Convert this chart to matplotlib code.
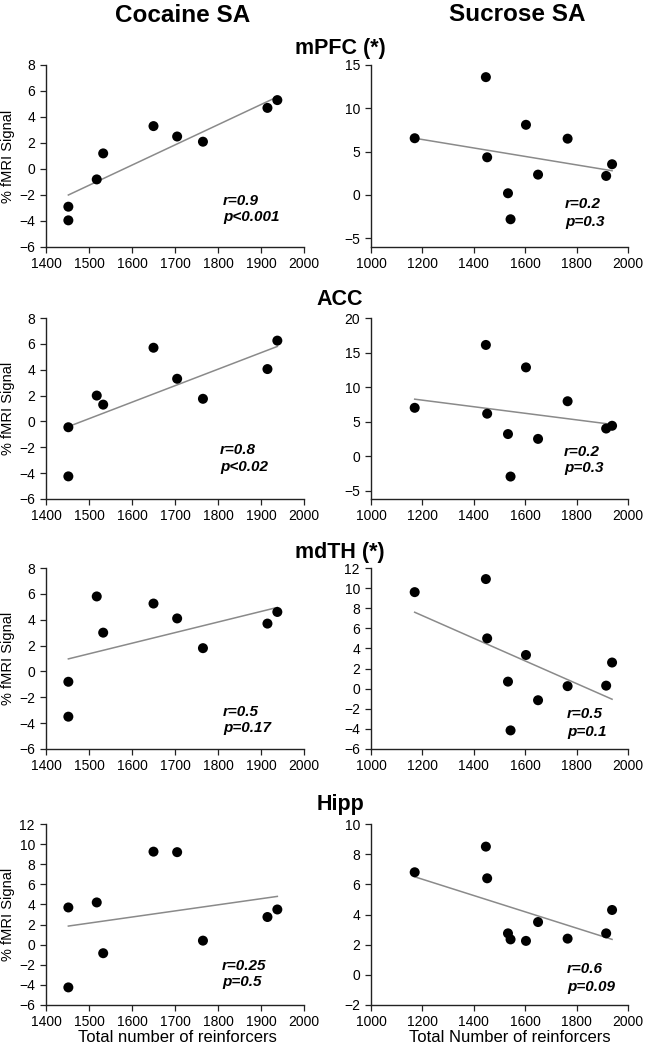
import matplotlib
matplotlib.use("Agg")
import matplotlib.pyplot as plt
import numpy as np

plt.rcParams["font.family"] = ["Liberation Sans", "DejaVu Sans"]

# reinforcers per subject
coc_x = [1452, 1452, 1518, 1533, 1650, 1705, 1765, 1915, 1938]
suc_x = [1170, 1447, 1452, 1533, 1543, 1603, 1650, 1765, 1915, 1938]

# % fMRI signal, cocaine group
coc_mpfc = [-2.9, -3.95, -0.8, 1.2, 3.3, 2.5, 2.1, 4.7, 5.3]
coc_acc = [-0.45, -4.25, 2.0, 1.3, 5.7, 3.3, 1.75, 4.05, 6.25]
coc_mdth = [-0.8, -3.5, 5.8, 3.0, 5.25, 4.1, 1.8, 3.7, 4.6]
coc_hipp = [3.7, -4.25, 4.2, -0.85, 9.25, 9.2, 0.4, 2.75, 3.5]

# % fMRI signal, sucrose group
suc_mpfc = [6.55, 13.6, 4.35, 0.2, -2.8, 8.1, 2.35, 6.5, 2.2, 3.55]
suc_acc = [7.0, 16.1, 6.15, 3.2, -2.95, 12.85, 2.5, 7.95, 4.0, 4.4]
suc_mdth = [9.6, 10.9, 5.0, 0.7, -4.15, 3.35, -1.15, 0.25, 0.3, 2.6]
suc_hipp = [6.8, 8.5, 6.4, 2.75, 2.35, 2.25, 3.5, 2.4, 2.75, 4.3]

# regression line end points
coc_fit_x = [1452, 1938]
suc_fit_x = [1170, 1938]
coc_fit = [[-2.0, 5.55], [-0.4, 5.8], [0.97, 4.95], [1.85, 4.8]]
suc_fit = [[6.55, 2.8], [8.25, 4.6], [7.6, -1.05], [6.5, 2.35]]

coc_stats = [("r=0.9", "p<0.001"), ("r=0.8", "p<0.02"), ("r=0.5", "p=0.17"), ("r=0.25", "p=0.5")]
suc_stats = [("r=0.2", "p=0.3"), ("r=0.2", "p=0.3"), ("r=0.5", "p=0.1"), ("r=0.6", "p=0.09")]

regions = ["mPFC (*)", "ACC", "mdTH (*)", "Hipp"]

coc_ylim = [(-6, 8), (-6, 8), (-6, 8), (-6, 12)]
coc_yticks = [np.arange(-6, 9, 2)] * 3 + [np.arange(-6, 13, 2)]
suc_ylim = [(-6, 15), (-6.2, 20), (-6, 12), (-2, 10)]
suc_yticks = [np.arange(-5, 16, 5), np.arange(-5, 21, 5), np.arange(-6, 13, 2), np.arange(-2, 11, 2)]

W, H = 645, 1050
fig = plt.figure(figsize=(W / 100, H / 100), dpi=100)

rows = [(65, 247), (318, 499), (568, 749), (824, 1005)]
title_base = [54, 305, 558, 810]
coc_txt = [(0.686, 0.253, 0.165), (0.674, 0.271, 0.177), (0.686, 0.204, 0.116), (0.682, 0.215, 0.127)]
suc_txt = [(0.755, 0.239, 0.139), (0.751, 0.26, 0.171), (0.763, 0.193, 0.094), (0.763, 0.201, 0.101)]


def style(ax):
    for s in ["top", "right"]:
        ax.spines[s].set_visible(False)
    for s in ["left", "bottom"]:
        ax.spines[s].set_linewidth(1.0)
        ax.spines[s].set_color("#222222")
    ax.tick_params(direction="out", length=4, width=0.9, labelsize=10, color="#222222")
    ax.tick_params(axis="y", pad=4)
    ax.tick_params(axis="x", pad=3)


def panel(ax, x, y, fx, fy, st, pos, xlim, xt, ylim, yt):
    ax.plot(fx, fy, color="#8a8a8a", lw=1.1, zorder=1)
    ax.scatter(x, y, s=52, color="black", zorder=2, edgecolors="none")
    ax.set_xlim(*xlim)
    ax.set_xticks(xt)
    ax.set_ylim(*ylim)
    ax.set_yticks(yt)
    style(ax)
    ax.text(pos[0], pos[1], st[0], transform=ax.transAxes, ha="left", va="center",
            fontsize=11, fontweight="bold", fontstyle="italic")
    ax.text(pos[0], pos[2], st[1], transform=ax.transAxes, ha="left", va="center",
            fontsize=11, fontweight="bold", fontstyle="italic")


coc_y = [coc_mpfc, coc_acc, coc_mdth, coc_hipp]
suc_y = [suc_mpfc, suc_acc, suc_mdth, suc_hipp]

for i, (top, bot) in enumerate(rows):
    ax1 = fig.add_axes([46 / W, 1 - bot / H, 258 / W, (bot - top) / H])
    panel(ax1, coc_x, coc_y[i], coc_fit_x, coc_fit[i], coc_stats[i], coc_txt[i],
          (1400, 2000), np.arange(1400, 2001, 100), coc_ylim[i], coc_yticks[i])
    ax1.set_ylabel("% fMRI Signal", fontsize=10.5, labelpad=3)

    ax2 = fig.add_axes([371 / W, 1 - bot / H, 257 / W, (bot - top) / H])
    panel(ax2, suc_x, suc_y[i], suc_fit_x, suc_fit[i], suc_stats[i], suc_txt[i],
          (1000, 2000), np.arange(1000, 2001, 200), suc_ylim[i], suc_yticks[i])

    fig.text(340 / W, 1 - title_base[i] / H, regions[i], ha="center", va="baseline",
             fontsize=15.5, fontweight="bold")

fig.text(177 / W, 1 - 1042 / H, "Total number of reinforcers", ha="center", va="baseline", fontsize=12)
fig.text(510 / W, 1 - 1042 / H, "Total Number of reinforcers", ha="center", va="baseline", fontsize=12)

fig.text(183 / W, 1 - 22 / H, "Cocaine SA", ha="center", va="baseline", fontsize=17.5, fontweight="bold")
fig.text(517 / W, 1 - 21 / H, "Sucrose SA", ha="center", va="baseline", fontsize=17.5, fontweight="bold")

fig.savefig("out.png", dpi=100)
